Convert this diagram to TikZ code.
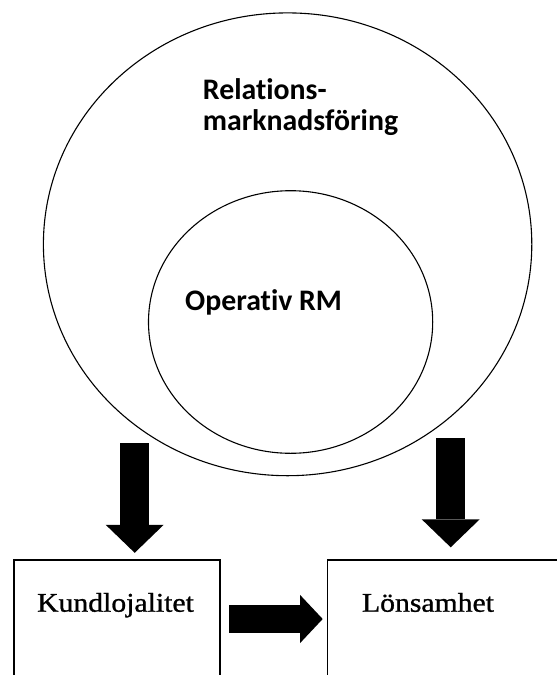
\documentclass[tikz,border=0pt]{standalone}
\usepackage{fontspec}
\usetikzlibrary{shapes.geometric,arrows.meta}
\newfontfamily\calibfont{Carlito}[Ligatures={NoCommon}]
\newfontfamily\garafont{Liberation Serif}[FakeStretch=1.1,FakeBold=1]
\begin{document}
\begin{tikzpicture}[x=1pt,y=-1pt,
  ring/.style={ellipse,draw,line width=1.1pt,inner sep=0pt},
  box/.style={rectangle,draw,line width=1.3pt,inner sep=0pt,anchor=north west},
  sanslabel/.style={font=\calibfont\bfseries\fontsize{29.8}{30.7}\selectfont,inner sep=0pt,align=left},
  seriflabel/.style={font=\garafont\fontsize{27}{30}\selectfont,inner sep=0pt},
  downarrow/.style={line width=29.3pt,-{Triangle[length=28pt,width=58pt,line width=0pt]}},
  rightarrow/.style={line width=28pt,-{Triangle[length=22.7pt,width=48.3pt,line width=0pt]}}]
\clip (0,0) rectangle (557,675);
\fill[white] (0,0) rectangle (557,675);
\node[ring,minimum width=488.4pt,minimum height=462.8pt] (rm) at (287.6,244.3) {};
\node[ring,minimum width=284.2pt,minimum height=262.6pt] (op) at (290.6,322) {};
\node[sanslabel,anchor=base west] (rmt) at (202.7,130) {Relations-\\marknadsföring};
\node[sanslabel,anchor=base west] (opt) at (185,310.7) {Operativ RM};
\node[box,minimum width=206pt,minimum height=140pt] (kl) at (13.3,559.3) {};
\node[box,minimum width=250pt,minimum height=140pt] (ls) at (326.7,559.3) {};
\node[seriflabel,anchor=base] (klt) at (115.5,611.7) {Kundlojalitet};
\node[seriflabel,anchor=base] (lst) at (428,611.7) {Lönsamhet};
\coordinate (a1) at (134.7,443);
\coordinate (a2) at (450.7,438);
\coordinate (h) at (0,619);
\draw[downarrow,shorten >=6.5pt] (a1) -- (a1 |- kl.north);
\draw[downarrow,shorten >=12pt] (a2) -- (a2 |- ls.north);
\draw[rightarrow,shorten <=8.7pt,shorten >=4pt] (kl.east |- h) -- (ls.west |- h);
\end{tikzpicture}
\end{document}
